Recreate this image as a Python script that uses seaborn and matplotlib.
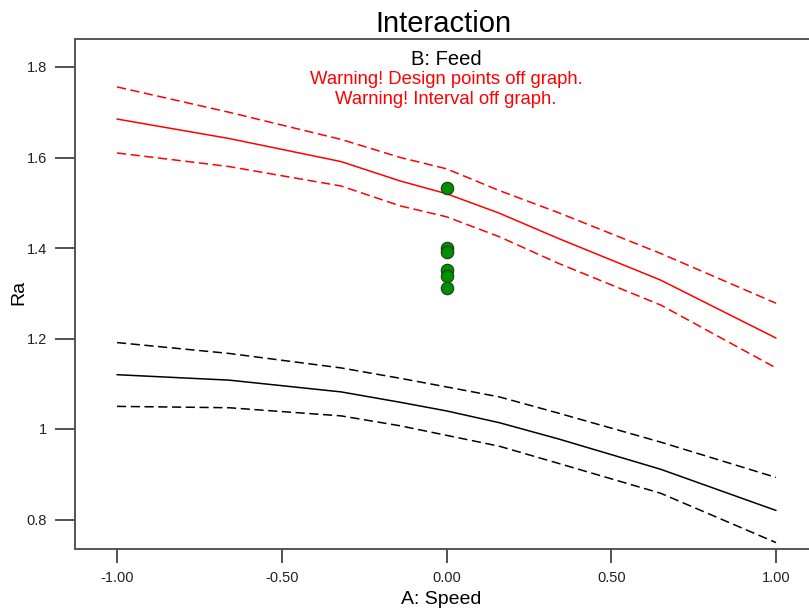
import matplotlib
matplotlib.use("Agg")
import matplotlib.pyplot as plt
import seaborn as sns
import pandas as pd

# ---- data ----
speed = [-1.00, -0.66, -0.32, -0.14, 0.00, 0.16, 0.34, 0.65, 1.00]
red_mean = [1.685, 1.642, 1.591, 1.548, 1.520, 1.477, 1.421, 1.329, 1.201]
red_upper = [1.756, 1.700, 1.640, 1.600, 1.575, 1.527, 1.478, 1.388, 1.278]
red_lower = [1.610, 1.580, 1.537, 1.493, 1.469, 1.425, 1.366, 1.274, 1.135]
black_mean = [1.120, 1.108, 1.082, 1.059, 1.040, 1.014, 0.978, 0.911, 0.820]
black_upper = [1.191, 1.167, 1.135, 1.112, 1.093, 1.071, 1.035, 0.971, 0.893]
black_lower = [1.050, 1.047, 1.029, 1.007, 0.986, 0.962, 0.924, 0.858, 0.749]
design_x = [0.0, 0.0, 0.0, 0.0, 0.0, 0.0]
design_y = [1.532, 1.400, 1.392, 1.351, 1.338, 1.311]
xticks = [-1.00, -0.50, 0.00, 0.50, 1.00]
xtick_labels = ["-1.00", "-0.50", "0.00", "0.50", "1.00"]
yticks = [0.8, 1.0, 1.2, 1.4, 1.6, 1.8]
ytick_labels = ["0.8", "1", "1.2", "1.4", "1.6", "1.8"]

sns.set_style("white")
plt.rcParams["font.family"] = ["Liberation Sans", "DejaVu Sans"]

W, H = 809, 616
fig = plt.figure(figsize=(W / 100, H / 100), dpi=100)
ax = fig.add_axes([75 / W, (H - 549) / H, (818 - 75) / W, (549 - 39) / H])

dash = (6, 3)
series = [
    (red_upper, "#ff0000", dash),
    (red_mean, "#ff0000", None),
    (red_lower, "#ff0000", dash),
    (black_upper, "#000000", dash),
    (black_mean, "#000000", None),
    (black_lower, "#000000", dash),
]
for vals, col, ds in series:
    df = pd.DataFrame({"speed": speed, "Ra": vals})
    sns.lineplot(data=df, x="speed", y="Ra", color=col, lw=1.1, ax=ax,
                 estimator=None, sort=False)
    if ds is not None:
        ax.lines[-1].set_dashes(ds)

pts = pd.DataFrame({"speed": design_x, "Ra": design_y})
sns.scatterplot(data=pts, x="speed", y="Ra", color="#009000", edgecolor="#1a3a1a",
                linewidth=0.8, s=80, ax=ax, zorder=5)

ax.set_xlim(-1.1275, 1.1275)
ax.set_ylim(1.8 - 482 / 452.5, 1.8 + 28 / 452.5)
ax.set_xticks(xticks)
ax.set_xticklabels(xtick_labels)
ax.set_yticks(yticks)
ax.set_yticklabels(ytick_labels)
ax.set_xlabel("")
ax.set_ylabel("")

for side in ["left", "bottom", "top", "right"]:
    ax.spines[side].set_color("#555555")
    ax.spines[side].set_linewidth(1.4)

ax.tick_params(axis="y", direction="out", length=14.4, width=1.2, color="#333333",
               labelsize=10.5, labelcolor="#222222", pad=6, left=True)
ax.tick_params(axis="x", direction="out", length=10, width=1.2, color="#333333",
               labelsize=10.5, labelcolor="#222222", pad=6, bottom=True)

def px(x, y):
    return x / W, 1 - y / H

fig.text(*px(443, 31.5), "Interaction", ha="center", va="baseline", fontsize=21, color="black")
fig.text(*px(446, 65), "B: Feed", ha="center", va="baseline", fontsize=14.5, color="black")
fig.text(*px(446, 83.5), "Warning! Design points off graph.", ha="center", va="baseline",
         fontsize=13.3, color="#ff0000")
fig.text(*px(445.5, 104), "Warning! Interval off graph.", ha="center", va="baseline",
         fontsize=13.3, color="#ff0000")
fig.text(*px(441, 600), "A: Speed", ha="center", va="center", fontsize=14, color="black")
fig.text(*px(19, 292), "Ra", ha="center", va="center", rotation=90, fontsize=14, color="black")

fig.savefig("out.png", dpi=100)
